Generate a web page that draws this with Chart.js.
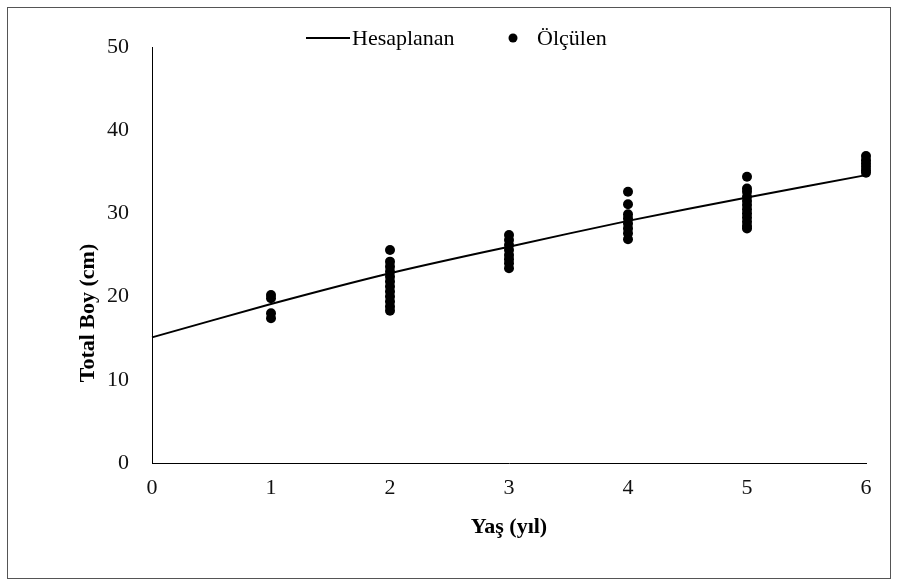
<!DOCTYPE html>
<html lang="tr">

<head>
    <meta charset="UTF-8">
    <title>Total Boy - Yaş</title>
    <style>
        body {
            margin: 0;
            background: #fff;
        }

        .kutu {
            position: absolute;
            left: 7px;
            top: 7px;
            width: 882px;
            height: 570px;
            border: 1px solid #555;
        }
    </style>
</head>

<body>
    <div class="kutu">
        <canvas id="grafik" width="882" height="570"></canvas>
    </div>

    <script src="https://cdn.jsdelivr.net/npm/chart.js"></script>
    <script>
        // hesaplanan egri (yas 0..6)
        const yaslar = [0, 1, 2, 3, 4, 5, 6];
        const hesaplanan = [15.1, 19.1, 22.8, 26.0, 29.1, 31.9, 34.6];

        // olculen boylar, yas grubuna gore
        const olcYas1 = [20.2, 19.8, 18.0, 17.4];
        const olcYas2 = [25.6, 24.2, 23.6, 23.0, 22.4, 21.8, 21.2, 20.6, 20.0, 19.4, 18.8, 18.3];
        const olcYas3 = [27.4, 26.8, 26.2, 25.6, 25.0, 24.5, 24.0, 23.4];
        const olcYas4 = [32.6, 31.1, 29.9, 29.4, 28.8, 28.2, 27.6, 26.9];
        const olcYas5 = [34.4, 33.0, 32.6, 32.0, 31.5, 31.0, 30.5, 30.0, 29.5, 29.0, 28.5, 28.2];
        const olcYas6 = [36.9, 36.4, 36.0, 35.6, 35.2, 34.9];

        const xTicks = [0, 1, 2, 3, 4, 5, 6];
        const yTicks = [0, 10, 20, 30, 40, 50];
        const yBaslik = 'Total Boy (cm)';

        const olcGruplar = [olcYas1, olcYas2, olcYas3, olcYas4, olcYas5, olcYas6];
        let olculenNoktalar = [];
        olcGruplar.forEach((grup, i) => {
            grup.forEach(v => olculenNoktalar.push({ x: i + 1, y: v }));
        });
        const hesapNoktalar = yaslar.map((x, i) => ({ x: x, y: hesaplanan[i] }));

        const serif = "'Liberation Serif', 'Times New Roman', serif";

        // legend ve y basligi elle ciziliyor
        const elleCizim = {
            id: 'elleCizim',
            afterDraw(chart) {
                const ctx = chart.ctx;
                ctx.save();
                ctx.font = "22px " + serif;
                ctx.fillStyle = "#000";
                ctx.textBaseline = "middle";
                ctx.strokeStyle = "#000";
                ctx.lineWidth = 2;
                ctx.beginPath();
                ctx.moveTo(298, 30);
                ctx.lineTo(342, 30);
                ctx.stroke();
                ctx.fillText(chart.data.datasets[0].label, 344, 31);

                ctx.beginPath();
                ctx.arc(505, 30, 4.5, 0, Math.PI * 2);
                ctx.fill();
                ctx.fillText(chart.data.datasets[1].label, 529, 31);

                // y ekseni basligi (biraz asagida)
                ctx.font = "bold 22px " + serif;
                ctx.textAlign = "center";
                ctx.translate(80, 305);
                ctx.rotate(-Math.PI / 2);
                ctx.fillText(yBaslik, 0, 0);
                ctx.restore();
            }
        };

        new Chart(document.getElementById('grafik'), {
            type: 'scatter',
            data: {
                datasets: [{
                    label: 'Hesaplanan',
                    data: hesapNoktalar,
                    showLine: true,
                    borderColor: '#000',
                    borderWidth: 2,
                    pointRadius: 0,
                    tension: 0.3,
                    clip: false
                }, {
                    label: 'Ölçülen',
                    data: olculenNoktalar,
                    backgroundColor: '#000',
                    borderColor: '#000',
                    pointRadius: 5,
                    borderWidth: 0,
                    clip: false
                }]
            },
            options: {
                responsive: false,
                animation: false,
                layout: {
                    padding: { top: 39, right: 24, left: 0, bottom: 0 }
                },
                plugins: {
                    legend: { display: false },
                    tooltip: { enabled: false }
                },
                scales: {
                    x: {
                        type: 'linear',
                        min: 0,
                        max: 6,
                        afterBuildTicks: s => { s.ticks = xTicks.map(v => ({ value: v })); },
                        afterFit: s => { s.height = 115; },
                        grid: { display: false, drawTicks: false },
                        border: { display: true, color: '#000', width: 1 },
                        ticks: {
                            color: '#111',
                            padding: 12,
                            font: { family: serif, size: 22 }
                        },
                        title: {
                            display: true,
                            text: 'Yaş (yıl)',
                            color: '#000',
                            padding: { top: 0, bottom: 37 },
                            font: { family: serif, size: 22, weight: 'bold' }
                        }
                    },
                    y: {
                        min: 0,
                        max: 50,
                        afterBuildTicks: s => { s.ticks = yTicks.map(v => ({ value: v })); },
                        afterFit: s => { s.width = 144; },
                        grid: { display: false, drawTicks: false },
                        border: { display: true, color: '#000', width: 1 },
                        ticks: {
                            color: '#111',
                            padding: 23,
                            font: { family: serif, size: 22 }
                        }
                    }
                }
            },
            plugins: [elleCizim]
        });
    </script>

</body>

</html>
